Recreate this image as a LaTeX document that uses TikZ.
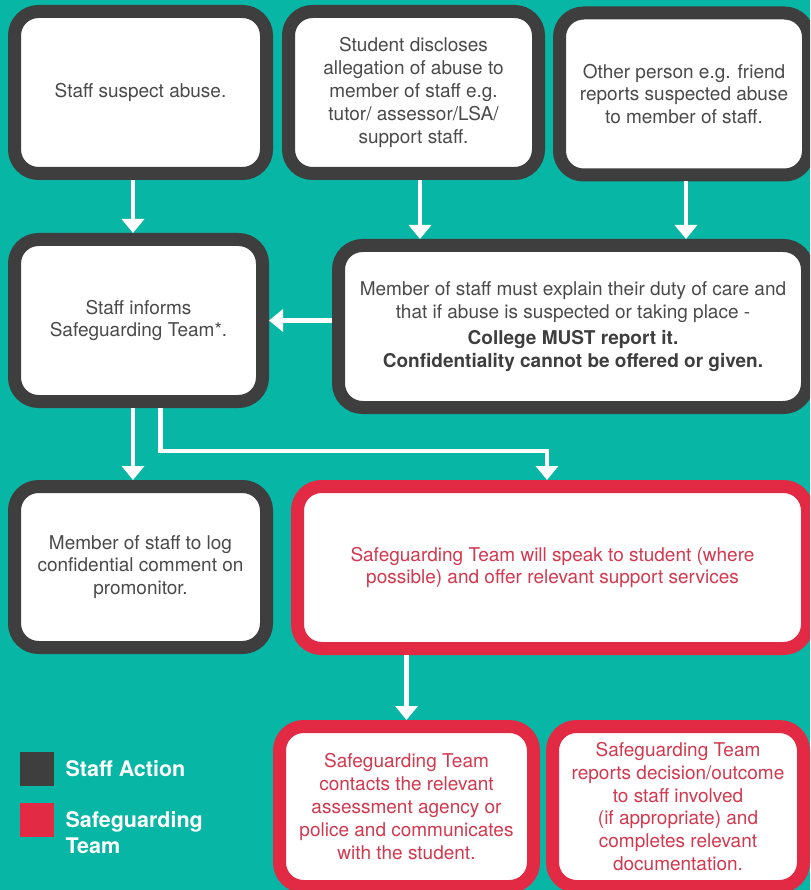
\documentclass[tikz,border=0pt]{standalone}
\usepackage{fontspec}
\setmainfont{TeX Gyre Heros}
\usetikzlibrary{arrows.meta}
\definecolor{bgteal}{HTML}{07B6A5}
\definecolor{staffgray}{HTML}{3E3E3E}
\definecolor{teamred}{HTML}{E32A45}
\definecolor{stafftext}{HTML}{4A4A4A}
\definecolor{teamtext}{HTML}{D2394F}
\tikzset{
  box/.style={draw, fill=white, line width=13pt, rounded corners=24pt, inner sep=0pt,
    align=center, font=\fontsize{19}{22.8}\selectfont},
  staffbox/.style={box, draw=staffgray, text=stafftext},
  teambox/.style={box, draw=teamred, text=teamtext},
  flow/.style={draw=white, line width=4.5pt, -{Triangle[width=22pt,length=14pt]}},
  key/.style={minimum size=34pt, inner sep=0pt},
  keytext/.style={anchor=west, align=left, text=white, font=\fontsize{21.5}{26}\selectfont\bfseries}
}
\begin{document}
\begin{tikzpicture}[x=1pt, y=-1pt]
\useasboundingbox (0,0) rectangle (810,890);
\clip (0,0) rectangle (810,890);
\fill[bgteal] (0,0) rectangle (810,890);

\node[staffbox, minimum width=252pt, minimum height=162pt] (suspect) at (140.5,92.5) {Staff suspect abuse.};
\node[staffbox, minimum width=250pt, minimum height=162pt] (disclose) at (413.5,92.5) {Student discloses\\allegation of abuse to\\member of staff e.g.\\tutor/ assessor/LSA/\\support staff.};
\node[staffbox, minimum width=249pt, minimum height=162pt] (other) at (684,94) {Other person e.g. friend\\reports suspected abuse\\to member of staff.};

\node[staffbox, minimum width=248pt, minimum height=162pt] (informs) at (138.5,320.5) {Staff informs\\Safeguarding Team*.};
\node[staffbox, minimum width=469pt, minimum height=162pt] (explain) at (573,326.5) {Member of staff must explain their duty of care and\\that if abuse is suspected or taking place -\\[3pt]
  \textcolor{staffgray}{\bfseries College MUST report it.}\\\textcolor{staffgray}{\bfseries Confidentiality cannot be offered or given.}};

\node[staffbox, minimum width=252pt, minimum height=161pt] (log) at (140.5,567) {Member of staff to log\\confidential comment on\\promonitor.};
\node[teambox, minimum width=510pt, minimum height=162pt] (speak) at (552.5,567.5) {Safeguarding Team will speak to student (where\\possible) and offer relevant support services};

\node[teambox, minimum width=254pt, minimum height=160pt] (contacts) at (406.5,806.5) {Safeguarding Team\\contacts the relevant\\assessment agency or\\police and communicates\\with the student.};
\node[teambox, minimum width=251pt, minimum height=160pt] (reports) at (678,806.5) {Safeguarding Team\\reports decision/outcome\\to staff involved\\(if appropriate) and\\completes relevant\\documentation.};

\node[key, fill=staffgray] (keystaff) at (37,768.5) {};
\node[key, fill=teamred] (keyteam) at (37,819.5) {};
\node[keytext] at (62,768.5) {Staff Action};
\node[keytext, anchor=north west] at (62,808) {Safeguarding\\Team};

\def\d{6.5pt}

\draw[flow] ([xshift=-7.5pt]suspect.south) -- ([xshift=-7.5pt]suspect.south |- informs.north);
\draw[flow] ([xshift=\d]disclose.south) -- ([xshift=\d]disclose.south |- explain.north);
\draw[flow] ([xshift=2pt]other.south) -- ([xshift=2pt]other.south |- explain.north);
\draw[flow] (explain.west |- informs.east) -- (informs.east);

\draw[flow] ([xshift=-5.5pt]informs.south) -- ([xshift=-5.5pt]informs.south |- log.north);
\coordinate (bend) at (547,451);
\draw[flow, line join=miter] ([xshift=22pt]informs.south) |- (bend) -- (bend |- speak.north);

\draw[flow] (contacts.north |- speak.south) -- (contacts.north);
\end{tikzpicture}
\end{document}
